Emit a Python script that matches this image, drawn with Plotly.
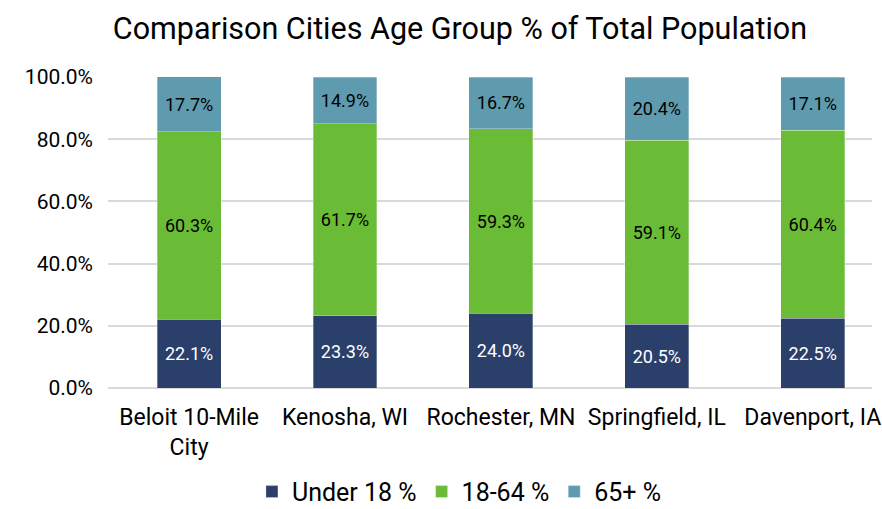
import plotly.graph_objects as go

cities = ["Beloit 10-Mile<br>City", "Kenosha, WI", "Rochester, MN", "Springfield, IL", "Davenport, IA"]
under_18 = [22.1, 23.3, 24.0, 20.5, 22.5]
age_18_64 = [60.3, 61.7, 59.3, 59.1, 60.4]
age_65_plus = [17.7, 14.9, 16.7, 20.4, 17.1]

FONT = "Roboto, Arial, sans-serif"

series = [
    ("Under 18 %", under_18, "#2B3F6B", "white"),
    ("18-64 %", age_18_64, "#6ABB35", "black"),
    ("65+ %", age_65_plus, "#5F9BAF", "black"),
]

fig = go.Figure()
for name, vals, color, txtcolor in series:
    fig.add_trace(go.Bar(
        x=list(range(len(cities))),
        y=vals,
        name=name,
        width=0.41,
        marker=dict(color=color, line=dict(color="rgba(255,255,255,0.6)", width=0.5)),
        text=[f"{v:.1f}%" for v in vals],
        textposition="inside",
        insidetextanchor="middle",
        textangle=0,
        constraintext="none",
        textfont=dict(family=FONT, size=18, color=txtcolor),
        hovertemplate="%{y:.1f}%<extra>" + name + "</extra>",
    ))

fig.update_layout(
    barmode="stack",
    width=882,
    height=509,
    template="plotly_white",
    plot_bgcolor="white",
    paper_bgcolor="white",
    margin=dict(l=108, r=10, t=77, b=121, autoexpand=False),
    title=dict(
        text="Comparison Cities Age Group % of Total Population",
        x=0.5215, xanchor="center", y=0.945, yanchor="middle",
        font=dict(family=FONT, size=30.5, color="black"),
    ),
    font=dict(family=FONT, color="black"),
    legend=dict(
        orientation="h",
        x=0.46, xanchor="center",
        y=-0.334, yanchor="middle",
        font=dict(family=FONT, size=25, color="black"),
        traceorder="normal",
        itemwidth=30,
        tracegroupgap=0,
    ),
)

fig.update_xaxes(
    tickmode="array",
    tickvals=list(range(len(cities))),
    ticktext=cities,
    range=[-0.52, 4.38],
    showgrid=False,
    showline=False,
    tickfont=dict(family=FONT, size=23, color="black"),
    ticks="",
    ticklabelstandoff=13,
)

fig.update_yaxes(
    range=[0, 100],
    tickvals=[0, 20, 40, 60, 80, 100],
    ticktext=["0.0%", "20.0%", "40.0%", "60.0%", "80.0%", "100.0%"],
    showgrid=True,
    gridcolor="#D9D9D9",
    gridwidth=1.5,
    zeroline=True,
    zerolinecolor="#D9D9D9",
    zerolinewidth=1.5,
    tickfont=dict(family=FONT, size=21, color="black"),
    ticks="",
    ticklabelstandoff=14,
)

# the page body has a default 8px margin; drop it so the figure fills the window
fig.write_html(
    "out.html",
    config={"displayModeBar": False},
    post_script="document.body.style.margin='0';",
)
